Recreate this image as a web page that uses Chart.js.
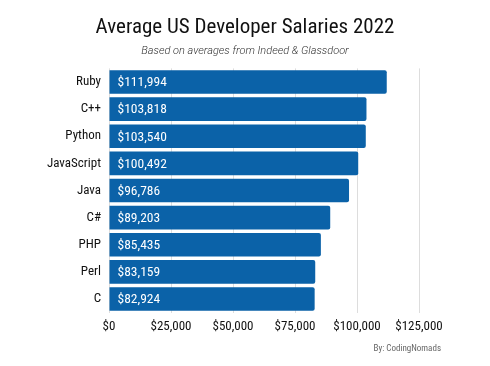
<!DOCTYPE html>
<html>
<head>
<meta charset="utf-8">
<script src="https://cdn.jsdelivr.net/npm/chart.js@4"></script>
<style>
html,body{margin:0;padding:0;background:#fff;}
#wrap{position:relative;width:490px;height:366px;}
</style>
</head>
<body>
<div id="wrap"><canvas id="c" width="490" height="366"></canvas></div>
<script>
const languages = ["Ruby","C++","Python","JavaScript","Java","C#","PHP","Perl","C"];
const salaries = [111994,103818,103540,100492,96786,89203,85435,83159,82924];
const titleText = "Average US Developer Salaries 2022";
const subtitleText = "Based on averages from Indeed & Glassdoor";
const creditText = "By: CodingNomads";

const fmt = v => "$" + v.toLocaleString("en-US");
const narrow = "'Liberation Sans Narrow', 'Roboto Condensed', Roboto";

const valueLabels = {
  id: "valueLabels",
  afterDatasetsDraw(chart) {
    const ctx = chart.ctx;
    const meta = chart.getDatasetMeta(0);
    ctx.save();
    ctx.fillStyle = "#ffffff";
    ctx.font = "13.5px " + narrow;
    ctx.textBaseline = "middle";
    ctx.textAlign = "left";
    meta.data.forEach((bar, i) => {
      ctx.fillText(fmt(salaries[i]), bar.base + 8, bar.y + 1);
    });
    ctx.restore();
  }
};
const credit = {
  id: "credit",
  afterDraw(chart) {
    const ctx = chart.ctx;
    ctx.save();
    ctx.fillStyle = "#666";
    ctx.font = "9px " + narrow;
    ctx.textAlign = "right";
    ctx.textBaseline = "middle";
    ctx.fillText(creditText, 441, 349);
    ctx.restore();
  }
};

new Chart(document.getElementById("c"), {
  type: "bar",
  data: {
    labels: languages,
    datasets: [{
      data: salaries,
      backgroundColor: "#0B62A8",
      borderRadius: {topLeft:0,bottomLeft:0,topRight:2,bottomRight:2},
      borderSkipped: "start",
      categoryPercentage: 1,
      barPercentage: 0.87
    }]
  },
  options: {
    indexAxis: "y",
    responsive: false,
    animation: false,
    layout: { padding: { left: 0, right: 0, top: 0, bottom: 20 } },
    plugins: {
      legend: { display: false },
      tooltip: { enabled: false },
      title: {
        display: true, text: titleText, color: "#111",
        font: { family: narrow, size: 21, weight: "normal", lineHeight: 1.2 },
        padding: { top: 15, bottom: 4 }
      },
      subtitle: {
        display: true, text: subtitleText, color: "#333",
        font: { family: "Roboto", size: 11, style: "italic", weight: "300", lineHeight: 1.2 },
        padding: { top: 0, bottom: 11 }
      }
    },
    scales: {
      x: {
        min: 0, max: 125000,
        ticks: { stepSize: 25000, callback: v => fmt(v), color: "#111",
                 font: { family: narrow, size: 13 }, padding: 6, maxRotation: 0 },
        grid: { color: "#dddddd", drawTicks: false },
        border: { display: false },
        afterFit(s) { s.height = 33.4; s.paddingRight = 71; s.paddingLeft = 0; }
      },
      y: {
        ticks: { color: "#111", font: { family: narrow, size: 13 }, padding: 8 },
        grid: { display: false, drawTicks: false },
        border: { display: false },
        afterFit(s) { s.width = 109; }
      }
    }
  },
  plugins: [valueLabels, credit]
});
</script>
</body>
</html>
